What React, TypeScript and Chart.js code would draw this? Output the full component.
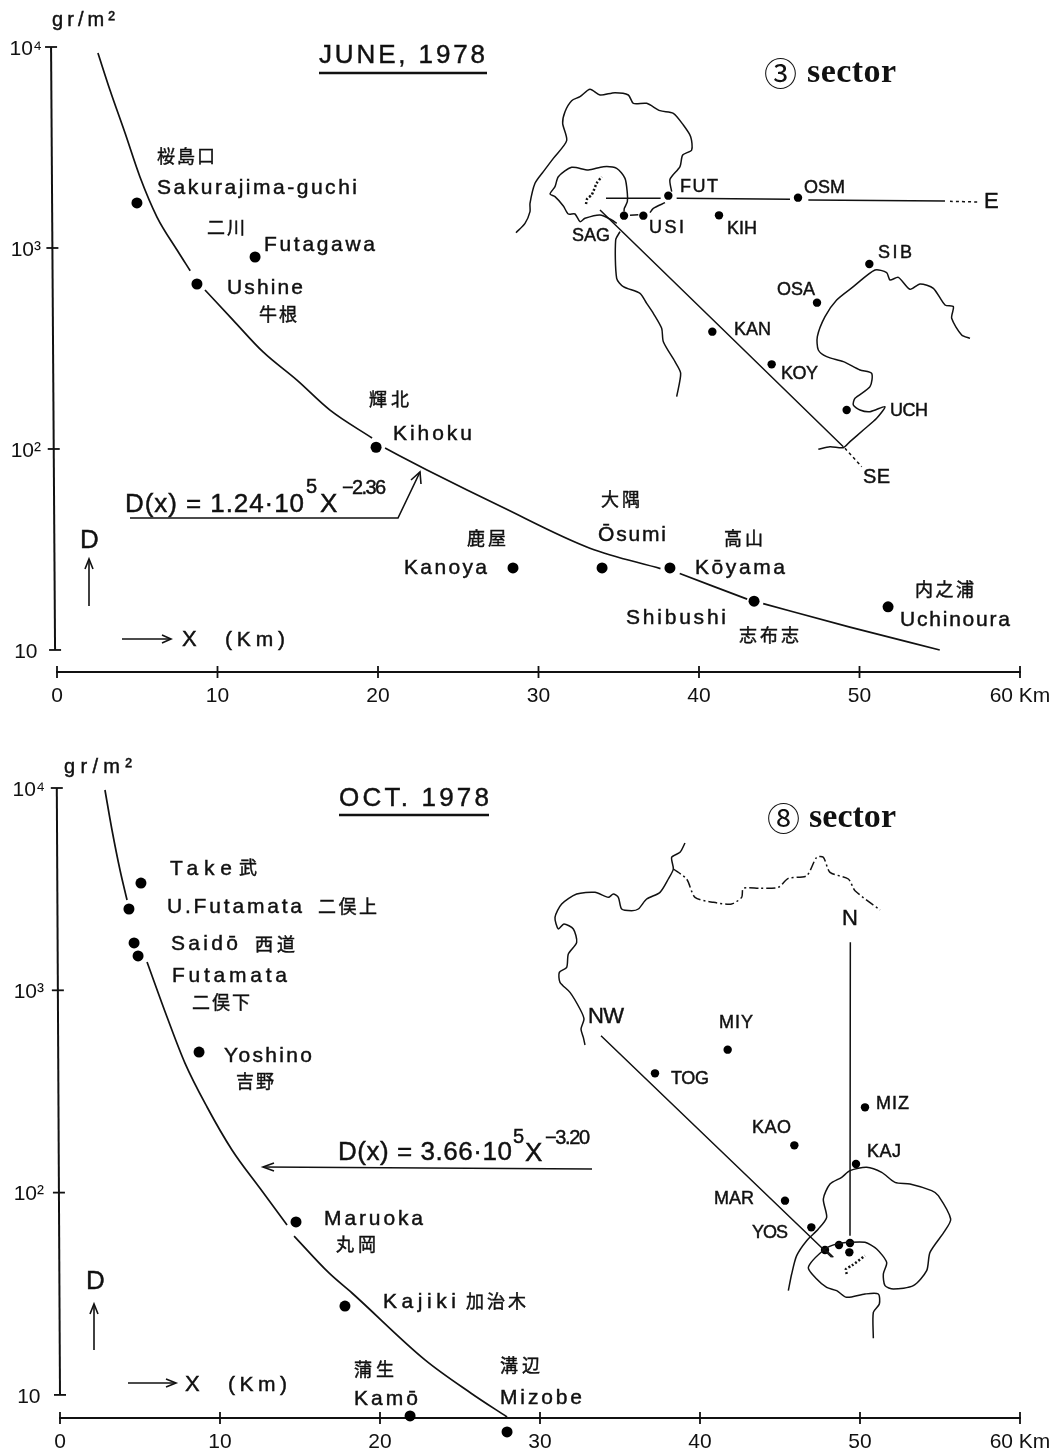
import React, { useEffect, useRef } from "react";
import { Chart, registerables } from "chart.js";

Chart.register(...registerables);

type P = [number, number];

// ---- June chart values (distance km, deposit gr/m2)
const juneStations: P[] = [[4.98, 1675], [12.34, 902], [8.72, 662], [19.88, 102], [28.41, 25.6], [33.96, 25.6], [38.19, 25.6], [43.43, 17.5], [51.78, 16.4]];
const juneCurveA: P[] = [[2.55, 9340], [3.3, 6110], [4.24, 3730], [5.17, 2256], [6.23, 1426], [7.48, 977], [8.3, 770]];
const juneCurveB: P[] = [[9.22, 618], [10.97, 438], [12.84, 304], [14.95, 220], [17.01, 156], [19.63, 113.4]];
const juneCurveC: P[] = [[20.44, 101], [23.05, 78.7], [25.55, 62.5], [27.6, 52], [33.2, 32.1], [37.6, 25.4]];
const juneCurveD: P[] = [[38.8, 24], [43.0, 17.9]];
const juneCurveE: P[] = [[44.0, 17], [49.4, 13], [55, 10]];

// ---- October chart values
const octStations: P[] = [[5.06, 3390], [4.31, 2523], [4.63, 1714], [4.88, 1479], [8.69, 495], [14.75, 71.6], [17.81, 27.5], [21.88, 7.87], [27.94, 6.56]];
const octCurveA: P[] = [[2.81, 9775], [3.25, 6200], [3.75, 3932], [4.19, 2793]];
const octCurveB: P[] = [[5.44, 1380], [6.69, 738], [7.81, 437], [9.19, 265], [10.75, 162.5], [12.5, 105], [14.19, 69.2]];
const octCurveC: P[] = [[14.63, 61], [16.81, 40.1], [18.25, 31.9], [22.81, 14.9], [25.69, 10.2], [27.94, 7.78]];

const xTicks = [0, 10, 20, 30, 40, 50, 60];
const xTickLabels = ["0", "10", "20", "30", "40", "50", "60 Km"];
const yTicks = [10, 100, 1000, 10000];
const yTickLabels = ["10", "10²", "10³", "10⁴"];

// ---- June sector map (map units)
const mapAOuter: P[] = [[48, 458], [75, 430], [90, 395], [90, 370], [105, 310], [130, 275], [160, 235], [200, 182], [188, 130], [195, 95], [215, 62], [240, 50], [270, 28], [300, 45], [345, 38], [385, 45], [400, 70], [440, 70], [480, 92], [520, 100], [550, 135], [572, 170], [575, 210], [548, 225], [540, 260], [510, 298], [515, 335]];
const mapAInner: P[] = [[495, 368], [460, 385], [450, 398]];
const mapAIsland: P[] = [[350, 430], [335, 420], [300, 405], [255, 415], [240, 425], [225, 402], [205, 402], [190, 378], [165, 350], [150, 342], [165, 320], [175, 290], [215, 262], [265, 270], [310, 260], [350, 265], [375, 295], [382, 340], [382, 365], [373, 385], [372, 395]];
const mapASouth: P[] = [[360, 455], [347, 480], [350, 595], [370, 620], [420, 640], [440, 670], [460, 700], [485, 745], [490, 785], [525, 845], [542, 880], [530, 950]];
const mapABayEast: P[] = [[1410, 775], [1385, 765], [1355, 715], [1360, 680], [1335, 675], [1300, 625], [1260, 612], [1230, 628], [1195, 592], [1170, 600], [1160, 578], [1125, 570], [1060, 620], [1010, 660], [975, 710], [952, 770], [955, 810], [980, 830], [1030, 845], [1080, 870], [1115, 880], [1110, 920], [1065, 955], [1060, 975], [1080, 990], [1110, 995], [1155, 980], [1130, 1015], [1090, 1050], [1050, 1085], [1030, 1103], [990, 1100], [955, 1108]];
const mapACrater: P[] = [[258, 372], [262, 355], [275, 345], [290, 310], [305, 290]];
const mapALineE1: P[] = [[318, 355], [482, 355]];
const mapALineE2: P[] = [[530, 355], [870, 358]];
const mapALineE3: P[] = [[925, 360], [1335, 363]];
const mapALineE4: P[] = [[1350, 364], [1435, 366]];
const mapALineSE1: P[] = [[300, 390], [1030, 1100]];
const mapALineSE2: P[] = [[1035, 1105], [1085, 1160]];
const mapADash: P[] = [[390, 406], [415, 404]];
const mapADots: P[] = [[505, 347], [894, 353], [430, 407], [372, 407], [657, 406], [1108, 552], [951, 668], [637, 755], [815, 853], [1040, 990]];

// ---- October sector map (map units)
const mapBCoast: P[] = [[435, 42], [420, 70], [395, 85], [400, 120], [385, 150], [360, 190], [320, 210], [295, 240], [275, 245], [245, 240], [235, 205], [220, 195], [205, 205], [165, 190], [110, 195], [65, 225], [45, 265], [55, 300], [72, 285], [100, 300], [110, 340], [85, 375], [80, 415], [58, 430], [60, 460], [90, 490], [120, 540], [132, 570], [123, 600], [130, 625], [135, 648]];
const mapBBorder: P[] = [[400, 120], [440, 150], [465, 205], [520, 220], [575, 225], [605, 205], [610, 178], [660, 178], [715, 175], [745, 148], [800, 140], [830, 85], [850, 85], [870, 130], [925, 150], [945, 185], [1020, 243]];
const mapBBay: P[] = [[745, 1385], [755, 1335], [770, 1280], [800, 1235], [835, 1200], [860, 1165], [850, 1110], [870, 1065], [905, 1045], [930, 1025], [980, 1015], [1025, 1030], [1065, 1060], [1110, 1065], [1175, 1085], [1195, 1100], [1232, 1170], [1215, 1205], [1170, 1270], [1160, 1325], [1120, 1370], [1060, 1380], [1035, 1370], [1030, 1335], [1040, 1300], [1010, 1260], [975, 1240], [930, 1240], [890, 1245], [855, 1260], [805, 1315], [830, 1350], [860, 1375], [890, 1385], [920, 1405], [975, 1395], [1015, 1395], [1018, 1425], [1000, 1450], [1000, 1528]];
const mapBStub: P[] = [[860, 1265], [880, 1285]];
const mapBCrater: P[] = [[920, 1335], [918, 1320], [935, 1310], [975, 1280]];
const mapBLineN: P[] = [[931, 340], [930, 1220]];
const mapBLineNW: P[] = [[183, 620], [875, 1285]];
const mapBDots: P[] = [[563, 662], [345, 733], [975, 835], [763, 949], [948, 1005], [735, 1115], [814, 1195], [855, 1263], [897, 1248], [930, 1242], [928, 1270]];

// ---- text: [string, left, right, centre y, size, kind]
type T = [string, number, number, number, number?, string?];
const juneTexts: T[] = [
  ["gr/m²", 52, 115, 20, 20],
  ["JUNE, 1978", 319, 485, 56, 26],
  ["③", 764, 797, 73, 33, "circle"], ["sector", 807, 896, 73, 34, "serif"],
  ["桜島口", 157, 215, 158, 18], ["Sakurajima-guchi", 157, 357, 188], ["二川", 207, 245, 229, 18], ["Futagawa", 264, 375, 245],
  ["Ushine", 227, 303, 288], ["牛根", 259, 297, 316, 18], ["輝北", 369, 409, 401, 18], ["Kihoku", 393, 472, 434],
  ["鹿屋", 467, 506, 540, 18], ["Kanoya", 404, 487, 568], ["大隅", 601, 640, 501, 18], ["Ōsumi", 598, 666, 535],
  ["高山", 724, 763, 540, 18], ["Kōyama", 695, 785, 568], ["Shibushi", 626, 726, 618], ["志布志", 739, 799, 637, 18],
  ["内之浦", 915, 974, 591, 18], ["Uchinoura", 900, 1010, 620],
  ["D(x) = 1.24·10", 125, 304, 505, 26], ["5", 306, 317, 487, 20], ["X", 320, 338, 505, 26], ["−2.36", 342, 386, 488, 20],
  ["D", 80, 97, 541, 26], ["X", 182, 196, 640, 22], ["(Km)", 225, 285, 640, 21],
  ["FUT", 680, 718, 187, 18], ["OSM", 804, 845, 188, 18], ["USI", 649, 684, 228, 18], ["KIH", 727, 757, 229, 18], ["SAG", 572, 610, 236, 18],
  ["SIB", 878, 912, 253, 18], ["OSA", 777, 815, 290, 18], ["KAN", 734, 771, 330, 18], ["KOY", 781, 818, 374, 18], ["UCH", 890, 928, 411, 18],
  ["E", 984, 997, 202, 22], ["SE", 863, 890, 477, 20],
];
const octTexts: T[] = [
  ["gr/m²", 64, 132, 767, 20],
  ["OCT. 1978", 339, 489, 799, 26],
  ["⑧", 767, 798, 818, 33, "circle"], ["sector", 809, 896, 818, 34, "serif"],
  ["Take", 170, 232, 869], ["武", 239, 258, 869, 18], ["U.Futamata", 167, 302, 907], ["二俣上", 318, 377, 908, 18],
  ["Saidō", 171, 238, 944], ["西道", 255, 295, 946, 18], ["Futamata", 172, 287, 976], ["二俣下", 192, 250, 1004, 18],
  ["Yoshino", 224, 312, 1056], ["吉野", 236, 274, 1083, 18], ["Maruoka", 324, 423, 1219], ["丸岡", 336, 376, 1246, 18],
  ["Kajiki", 383, 456, 1302], ["加治木", 466, 526, 1303, 18], ["蒲生", 354, 394, 1371, 18], ["Kamō", 354, 418, 1399],
  ["溝辺", 500, 540, 1367, 18], ["Mizobe", 500, 582, 1398],
  ["D(x) = 3.66·10", 338, 512, 1153, 26], ["5", 513, 524, 1137, 20], ["X", 525, 541, 1154, 26], ["−3.20", 545, 590, 1138, 20],
  ["D", 86, 102, 1282, 26], ["X", 185, 199, 1385, 22], ["(Km)", 228, 287, 1385, 21],
  ["NW", 588, 624, 1017, 22], ["N", 842, 856, 919, 22], ["MIY", 719, 753, 1023, 18], ["TOG", 671, 709, 1079, 18], ["MIZ", 876, 909, 1104, 18],
  ["KAO", 752, 791, 1128, 18], ["KAJ", 867, 901, 1152, 18], ["MAR", 714, 754, 1199, 18], ["YOS", 752, 788, 1233, 18],
];

// ---- hand-drawn annotation strokes (page units)
const juneStrokes: P[][] = [
  [[319, 73], [487, 73]],
  [[130, 518], [398, 518], [420, 472]],
  [[411, 480], [420, 472], [421, 484]],
  [[89, 606], [89, 560]], [[85, 569], [89, 559], [93, 569]],
  [[122, 639], [170, 639]], [[162, 635], [171, 639], [162, 643]],
];
const octStrokes: P[][] = [
  [[339, 815], [489, 815]],
  [[592, 1169], [263, 1167]],
  [[274, 1163], [263, 1167], [274, 1171]],
  [[94, 1350], [94, 1305]], [[90, 1314], [94, 1304], [98, 1314]],
  [[128, 1383], [175, 1383]], [[166, 1379], [176, 1383], [166, 1387]],
];

const FONT = '"Liberation Sans", "Noto Sans CJK JP", sans-serif';
const SERIF = '"Liberation Serif", serif';
const CIRCLE = '"Noto Sans CJK JP", "DejaVu Sans", sans-serif';
const INK = "#111";
const FAR: any = { left: -1e5, right: 1e5, top: -1e5, bottom: 1e5 };

function xy(pts: P[]) {
  return pts.map(([x, y]) => ({ x, y }));
}

function build(
  canvas: HTMLCanvasElement,
  cfg: {
    pageTop: number; left: number; top: number; bottom: number; yMin: number; axisTilt: P[];
    curves: P[][]; stations: P[]; strokes: P[][]; texts: T[];
    mapOrigin: P; mapLines: { pts: P[]; w?: number; dash?: number[] }[]; mapDots: P[];
  }
) {
  const { pageTop, left, top, bottom, yMin, mapOrigin } = cfg;
  const right = 1020;
  const line = (pts: P[], xAxisID: string, yAxisID: string, width: number, dash: number[] = [], tension = 0) => ({
    data: xy(pts), xAxisID, yAxisID, showLine: true, borderColor: INK, borderWidth: width, borderDash: dash,
    pointRadius: 0, tension, clip: false as const, fill: false,
  });
  const datasets: any[] = [];
  datasets.push(line(cfg.axisTilt, "x", "y", 2));
  cfg.curves.forEach((c) => datasets.push({ ...line(c, "x", "y", 1.7), cubicInterpolationMode: "monotone" }));
  cfg.strokes.forEach((s, i) => datasets.push(line(s, "ax", "ay", i === 0 ? 2.4 : 1.6)));
  cfg.mapLines.forEach((m) => datasets.push(line(m.pts, "mx", "my", m.w ?? 1.5, m.dash ?? [], 0.25)));
  datasets.push({
    data: yTicks.map((v) => ({ x: cfg.axisTilt[0][0] + (cfg.axisTilt[1][0] - cfg.axisTilt[0][0]) * (4 - Math.log10(v)) / 3, y: v })),
    xAxisID: "x", yAxisID: "y", showLine: false, pointStyle: "line", pointRadius: 6, pointBorderColor: INK, pointBorderWidth: 1.8, clip: false,
  });
  datasets.push({
    data: xTicks.map((x) => ({ x, y: yMin })), xAxisID: "x", yAxisID: "y", showLine: false, pointStyle: "line", pointRotation: 90,
    pointRadius: 6, pointBorderColor: INK, pointBorderWidth: 1.8, clip: false,
  });
  const stationIndex = datasets.length;
  datasets.push({
    data: xy(cfg.stations), xAxisID: "x", yAxisID: "y", showLine: false, pointRadius: 5.5, pointBackgroundColor: "#000",
    pointBorderColor: "#000", pointBorderWidth: 0, clip: false,
  });
  datasets.push({
    data: xy(cfg.mapDots), xAxisID: "mx", yAxisID: "my", showLine: false, pointRadius: 4.2, pointBackgroundColor: "#000",
    pointBorderColor: "#000", pointBorderWidth: 0, clip: false,
  });

  const textPlugin = {
    id: "pageText",
    afterDraw(chart: any) {
      const ctx = chart.ctx;
      // stations that lie below the plot area (under the distance axis)
      chart.getDatasetMeta(stationIndex).data.forEach((p: any) => {
        if (p.y > chart.chartArea.bottom) p.draw(ctx, FAR);
      });
      ctx.save();
      ctx.fillStyle = INK;
      ctx.strokeStyle = INK;
      ctx.textBaseline = "middle";
      ctx.textAlign = "left";
      cfg.texts.forEach(([s, x0, x1, cy, size, kind]) => {
        const px = size ?? 21;
        ctx.font = kind === "serif" ? `bold ${px}px ${SERIF}` : kind === "circle" ? `${px}px ${CIRCLE}` : `${px}px ${FONT}`;
        ctx.letterSpacing = "0px";
        const natural = ctx.measureText(s).width;
        const n = Array.from(s).length;
        const gap = n > 1 ? (x1 - x0 - natural) / (n - 1) : 0;
        ctx.letterSpacing = `${gap}px`;
        ctx.fillText(s, x0, cy - pageTop);
        if (!kind) {
          ctx.lineWidth = 0.45;
          ctx.strokeText(s, x0, cy - pageTop);
        }
      });
      ctx.restore();
    },
  };

  const hidden = (axis: string, min: number, max: number, reverse = false) => ({
    type: "linear", axis, display: false, min, max, reverse, bounds: "data", position: axis === "x" ? "bottom" : "left",
  });

  return new Chart(canvas, {
    type: "scatter",
    data: { datasets },
    plugins: [textPlugin],
    options: {
      animation: false,
      responsive: false,
      events: [],
      layout: { padding: { top: top - pageTop, right: 1059 - right, left: 0, bottom: 0 } },
      plugins: { legend: { display: false }, tooltip: { enabled: false }, title: { display: false } },
      scales: {
        x: {
          type: "linear", min: 0, max: 60, bounds: "data", position: "bottom",
          grid: { display: false },
          border: { display: true, color: INK, width: 2 },
          afterFit: (s: any) => { s.height = 727 - (bottom - pageTop); },
          ticks: {
            stepSize: 10, autoSkip: false, maxRotation: 0, minRotation: 0, padding: 4, color: INK,
            font: { family: FONT, size: 21 },
            callback: (v: any) => xTickLabels[xTicks.indexOf(v)],
          },
        },
        y: {
          type: "logarithmic", min: yMin, max: 10000, bounds: "data", position: "left",
          grid: { display: false },
          border: { display: false },
          afterFit: (s: any) => { s.width = left; },
          afterBuildTicks: (s: any) => { s.ticks = yTicks.map((value) => ({ value })); },
          ticks: {
            autoSkip: false, padding: 7, crossAlign: "center", labelOffset: 2, color: INK, font: { family: FONT, size: 21 },
            callback: (v: any) => yTickLabels[yTicks.indexOf(v)],
          },
        },
        ax: hidden("x", left, right),
        ay: hidden("y", top, bottom, true),
        mx: hidden("x", (left - mapOrigin[0]) * 3, (right - mapOrigin[0]) * 3),
        my: hidden("y", (top - mapOrigin[1]) * 3, (bottom - mapOrigin[1]) * 3, true),
      } as any,
    },
  } as any);
}

export default function App() {
  const a = useRef<HTMLCanvasElement>(null);
  const b = useRef<HTMLCanvasElement>(null);
  useEffect(() => {
    const c1 = build(a.current!, {
      pageTop: 0, left: 57, top: 47, bottom: 672, yMin: 7.77,
      axisTilt: [[-0.37, 10000], [-0.12, 10]],
      curves: [juneCurveA, juneCurveB, juneCurveC, juneCurveD, juneCurveE],
      stations: juneStations, strokes: juneStrokes, texts: juneTexts,
      mapOrigin: [500, 80],
      mapLines: [
        { pts: mapAOuter }, { pts: mapAInner }, { pts: mapAIsland }, { pts: mapASouth }, { pts: mapABayEast },
        { pts: mapACrater, w: 2.5, dash: [2, 2] },
        { pts: mapALineE1 }, { pts: mapALineE2 }, { pts: mapALineE3 }, { pts: mapALineE4, dash: [3, 3] },
        { pts: mapALineSE1 }, { pts: mapALineSE2, dash: [3, 3] }, { pts: mapADash },
      ],
      mapDots: mapADots,
    });
    const c2 = build(b.current!, {
      pageTop: 727, left: 60, top: 788, bottom: 1418, yMin: 7.69,
      axisTilt: [[-0.2, 10000], [0, 10]],
      curves: [octCurveA, octCurveB, octCurveC],
      stations: octStations, strokes: octStrokes, texts: octTexts,
      mapOrigin: [540, 829],
      mapLines: [
        { pts: mapBCoast }, { pts: mapBBorder, dash: [9, 3, 2, 3] }, { pts: mapBBay }, { pts: mapBStub },
        { pts: mapBCrater, w: 2.5, dash: [2, 2] }, { pts: mapBLineN }, { pts: mapBLineNW },
      ],
      mapDots: mapBDots,
    });
    return () => { c1.destroy(); c2.destroy(); };
  }, []);
  return (
    <div style={{ position: "absolute", left: 0, top: 0, width: 1059, height: 1454, background: "#fff", overflow: "hidden" }}>
      <canvas ref={a} width={1059} height={727} style={{ position: "absolute", left: 0, top: 0, width: 1059, height: 727 }} />
      <canvas ref={b} width={1059} height={727} style={{ position: "absolute", left: 0, top: 727, width: 1059, height: 727 }} />
    </div>
  );
}
